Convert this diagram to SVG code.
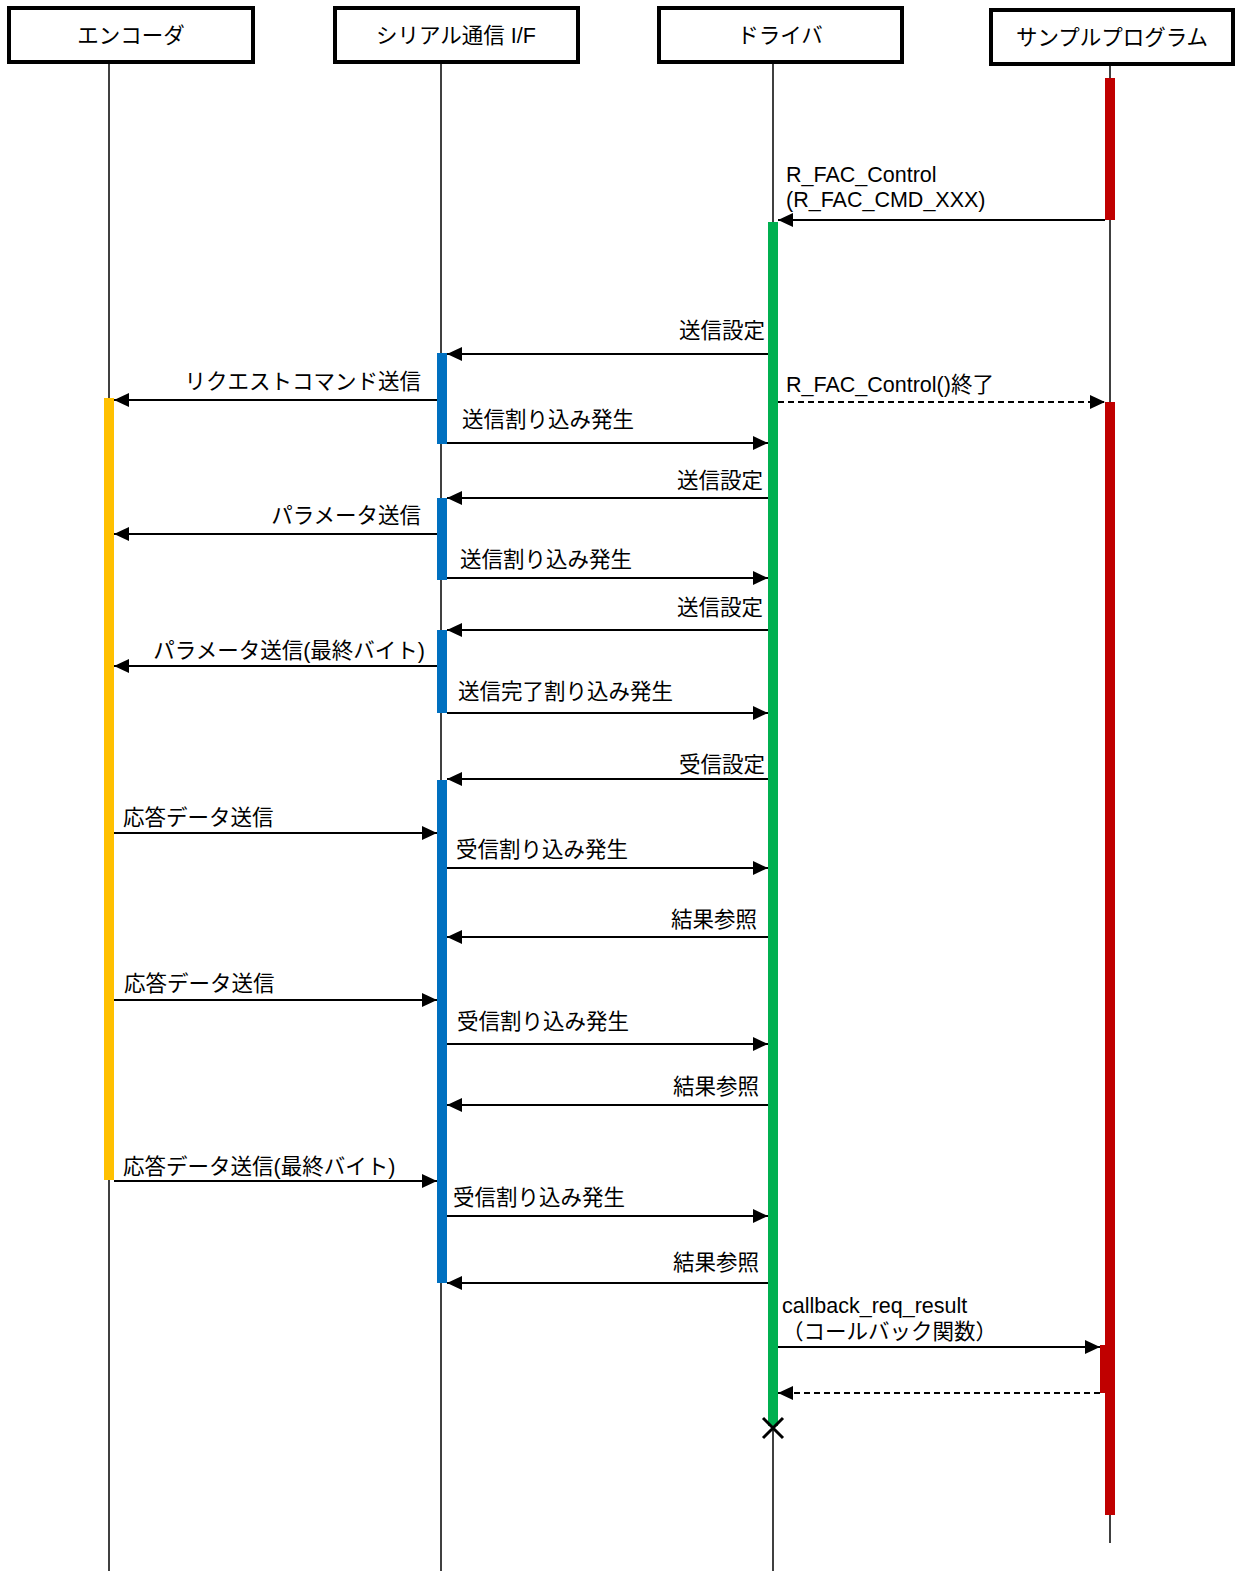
<svg xmlns="http://www.w3.org/2000/svg" width="1237" height="1571" viewBox="0 0 1237 1571">
<defs>
<marker id="ah" markerWidth="15" markerHeight="14" refX="15" refY="7" orient="auto" markerUnits="userSpaceOnUse"><path d="M0,0 L15,7 L0,14 Z" fill="#000"/></marker>
<style>
.box{fill:#fff;stroke:#000;stroke-width:4}
.life{stroke:#000;stroke-width:1.5;fill:none}
.t{font-family:"Liberation Sans","Noto Sans CJK JP",sans-serif;font-size:21.5px;fill:#000}
.h{font-family:"Liberation Sans","Noto Sans CJK JP",sans-serif;font-size:21.5px;fill:#000;text-anchor:middle}
.r{text-anchor:end}
.msg{stroke:#000;stroke-width:2;fill:none;marker-end:url(#ah)}
.dash{stroke-dasharray:6 4}
</style>
</defs>
<g id="lifelines">
<line class="life" x1="109" y1="62" x2="109" y2="1571"/>
<line class="life" x1="441" y1="62" x2="441" y2="1571"/>
<line class="life" x1="773" y1="62" x2="773" y2="1571"/>
<line class="life" x1="1110" y1="64" x2="1110" y2="1543"/>
</g>
<g id="node-encoder"><rect class="box" x="9" y="8" width="244" height="54"/><text class="h" x="131" y="43">エンコーダ</text></g>
<g id="node-serial"><rect class="box" x="335" y="8" width="243" height="54"/><text class="h" x="456" y="43">シリアル通信 I/F</text></g>
<g id="node-driver"><rect class="box" x="659" y="8" width="243" height="54"/><text class="h" x="780" y="43">ドライバ</text></g>
<g id="node-sample"><rect class="box" x="991" y="10" width="242" height="54"/><text class="h" x="1112" y="45">サンプルプログラム</text></g>
<g id="activations">
<rect x="1105" y="78" width="10" height="142" fill="#c00000"/>
<rect x="1105" y="402" width="10" height="1113" fill="#c00000"/>
<rect x="1100" y="1345" width="10" height="48" fill="#c00000"/>
<rect x="768" y="222" width="10" height="1204" fill="#00b050"/>
<rect x="437" y="353" width="10" height="91" fill="#0070c0"/>
<rect x="437" y="498" width="10" height="82" fill="#0070c0"/>
<rect x="437" y="630" width="10" height="83" fill="#0070c0"/>
<rect x="437" y="780" width="10" height="503" fill="#0070c0"/>
<rect x="104" y="398" width="10" height="782" fill="#ffc000"/>
</g>
<g id="connectors">
<line class="msg" x1="1105" y1="220" x2="778" y2="220"/>
<line class="msg" x1="768" y1="354" x2="447" y2="354"/>
<line class="msg" x1="437" y1="400" x2="114" y2="400"/>
<line class="msg dash" x1="778" y1="402" x2="1105" y2="402"/>
<line class="msg" x1="447" y1="443" x2="768" y2="443"/>
<line class="msg" x1="768" y1="498" x2="447" y2="498"/>
<line class="msg" x1="437" y1="534" x2="114" y2="534"/>
<line class="msg" x1="447" y1="578" x2="768" y2="578"/>
<line class="msg" x1="768" y1="630" x2="447" y2="630"/>
<line class="msg" x1="437" y1="666" x2="114" y2="666"/>
<line class="msg" x1="447" y1="713" x2="768" y2="713"/>
<line class="msg" x1="768" y1="779" x2="447" y2="779"/>
<line class="msg" x1="114" y1="833" x2="437" y2="833"/>
<line class="msg" x1="447" y1="868" x2="768" y2="868"/>
<line class="msg" x1="768" y1="937" x2="447" y2="937"/>
<line class="msg" x1="114" y1="1000" x2="437" y2="1000"/>
<line class="msg" x1="447" y1="1044" x2="768" y2="1044"/>
<line class="msg" x1="768" y1="1105" x2="447" y2="1105"/>
<line class="msg" x1="114" y1="1181" x2="437" y2="1181"/>
<line class="msg" x1="447" y1="1216" x2="768" y2="1216"/>
<line class="msg" x1="768" y1="1283" x2="447" y2="1283"/>
<line class="msg" x1="778" y1="1347" x2="1100" y2="1347"/>
<line class="msg dash" x1="1100" y1="1393" x2="778" y2="1393"/>
<path d="M763,1418 L783,1438 M783,1418 L763,1438" stroke="#000" stroke-width="3"/>
</g>
<g id="labels">
<text class="t" x="786" y="182">R_FAC_Control</text>
<text class="t" x="786" y="207">(R_FAC_CMD_XXX)</text>
<text class="t r" x="765" y="338">送信設定</text>
<text class="t r" x="421" y="389">リクエストコマンド送信</text>
<text class="t" x="786" y="392">R_FAC_Control()終了</text>
<text class="t" x="462" y="427">送信割り込み発生</text>
<text class="t r" x="763" y="488">送信設定</text>
<text class="t r" x="421" y="523">パラメータ送信</text>
<text class="t" x="460" y="567">送信割り込み発生</text>
<text class="t r" x="763" y="615">送信設定</text>
<text class="t r" x="425" y="658">パラメータ送信(最終バイト)</text>
<text class="t" x="458" y="699">送信完了割り込み発生</text>
<text class="t r" x="765" y="772">受信設定</text>
<text class="t" x="123" y="825">応答データ送信</text>
<text class="t" x="456" y="857">受信割り込み発生</text>
<text class="t r" x="757" y="927">結果参照</text>
<text class="t" x="124" y="991">応答データ送信</text>
<text class="t" x="457" y="1029">受信割り込み発生</text>
<text class="t r" x="759" y="1094">結果参照</text>
<text class="t" x="123" y="1174">応答データ送信(最終バイト)</text>
<text class="t" x="453" y="1205">受信割り込み発生</text>
<text class="t r" x="759" y="1270">結果参照</text>
<text class="t" x="782" y="1313">callback_req_result</text>
<text class="t" x="782" y="1339">（コールバック関数）</text>
</g>
</svg>
